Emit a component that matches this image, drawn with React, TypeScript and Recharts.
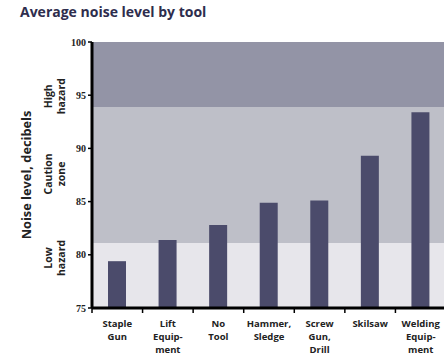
import React from "react";
import {
  BarChart,
  Bar,
  XAxis,
  YAxis,
  ReferenceArea,
  ReferenceLine,
} from "recharts";

// Werte
const tools = [
  "Staple Gun",
  "Lift Equipment",
  "No Tool",
  "Hammer, Sledge",
  "Screw Gun, Drill",
  "Skilsaw",
  "Welding Equipment",
];
const toolLines = [
  ["Staple", "Gun"],
  ["Lift", "Equip-", "ment"],
  ["No", "Tool"],
  ["Hammer,", "Sledge"],
  ["Screw", "Gun,", "Drill"],
  ["Skilsaw"],
  ["Welding", "Equip-", "ment"],
];
const noise = [79.4, 81.4, 82.8, 84.9, 85.1, 89.3, 93.4];

const yTicks = [75, 80, 85, 90, 95, 100];

const zoneNames = [
  ["High", "hazard"],
  ["Caution", "zone"],
  ["Low", "hazard"],
];
const zoneFrom = [93.9, 81.1, 75];
const zoneTo = [100, 93.9, 81.1];
const zoneLabelAt = [94.9, 87.6, 79.7];
const zoneColors = ["#9394a6", "#bebfc8", "#e7e6eb"];

const data = tools.map((t, i) => ({ tool: t, noise: noise[i] }));

const SANS = "'Open Sans', Lato, sans-serif";
const INK = "#222";
const PLOT_W = 354;

// Beschriftung plus Teilstrich an der linken Kategoriegrenze
function ToolTick(props: any) {
  const { x, y, payload, visibleTicksCount } = props;
  const band = (props.width || PLOT_W) / (visibleTicksCount || tools.length);
  const lines = toolLines[tools.indexOf(payload.value)] ?? [payload.value];
  const bx = x - band / 2;
  return (
    <g>
      <line x1={bx} x2={bx} y1={y} y2={y + 5} stroke="#000" strokeWidth={1.5} />
      {lines.map((l, i) => (
        <text
          key={i}
          x={x}
          y={y + 19 + i * 13}
          textAnchor="middle"
          fontFamily={SANS}
          fontWeight={700}
          fontSize={9.5}
          fill={INK}
        >
          {l}
        </text>
      ))}
    </g>
  );
}

function ZoneLabel({ viewBox, lines }: any) {
  const cy = viewBox.y;
  const x0 = viewBox.x - 44;
  return (
    <g>
      {lines.map((l: string, i: number) => {
        const cx = x0 + i * 13;
        return (
          <text
            key={i}
            x={cx}
            y={cy}
            transform={`rotate(-90, ${cx}, ${cy})`}
            textAnchor="middle"
            dominantBaseline="central"
            fontFamily={SANS}
            fontWeight={700}
            fontSize={10.5}
            fill={INK}
          >
            {l}
          </text>
        );
      })}
    </g>
  );
}

function YTitle({ viewBox }: any) {
  const cx = viewBox.x + 26;
  const cy = 175;
  return (
    <text
      x={cx}
      y={cy}
      transform={`rotate(-90, ${cx}, ${cy})`}
      textAnchor="middle"
      dominantBaseline="central"
      fontFamily={SANS}
      fontWeight={700}
      fontSize={12.8}
      fill={INK}
    >
      Noise level, decibels
    </text>
  );
}

export default function App() {
  return (
    <div
      style={{
        position: "absolute",
        left: 0,
        top: 0,
        width: 444,
        height: 357,
        overflow: "hidden",
        background: "#fff",
      }}
    >
      <div
        style={{
          position: "absolute",
          left: 20,
          top: 2,
          fontFamily: SANS,
          fontWeight: 700,
          fontSize: 14,
          color: "#2e2d4d",
          whiteSpace: "nowrap",
        }}
      >
        Average noise level by tool
      </div>
      <BarChart
        width={92 + PLOT_W}
        height={357}
        data={data}
        margin={{ top: 42, right: 0, left: 0, bottom: 0 }}
        barCategoryGap="10%"
      >
        {zoneNames.map((z, i) => (
          <ReferenceArea
            key={"a" + i}
            y1={zoneFrom[i]}
            y2={zoneTo[i]}
            fill={zoneColors[i]}
            fillOpacity={1}
            stroke="none"
          />
        ))}
        {zoneNames.map((z, i) => (
          <ReferenceLine
            key={"l" + i}
            y={zoneLabelAt[i]}
            stroke="none"
            label={(p: any) => <ZoneLabel {...p} lines={z} />}
          />
        ))}
        <XAxis
          dataKey="tool"
          interval={0}
          height={49}
          axisLine={{ stroke: "#000", strokeWidth: 3 }}
          tickLine={false}
          tickSize={0}
          tickMargin={0}
          tick={<ToolTick />}
        />
        <YAxis
          width={92}
          domain={[75, 100]}
          ticks={yTicks}
          interval={0}
          allowDataOverflow
          axisLine={{ stroke: "#000", strokeWidth: 3 }}
          tickLine={{ stroke: "#000", strokeWidth: 1.5 }}
          tickSize={4}
          tickMargin={2}
          tick={{
            fontFamily: "'Liberation Serif', serif",
            fontWeight: 700,
            fontSize: 10,
            fill: INK,
          }}
          label={(p: any) => <YTitle {...p} />}
        />
        <Bar
          dataKey="noise"
          fill="#4b4b6b"
          barSize={18}
          isAnimationActive={false}
        />
      </BarChart>
    </div>
  );
}
